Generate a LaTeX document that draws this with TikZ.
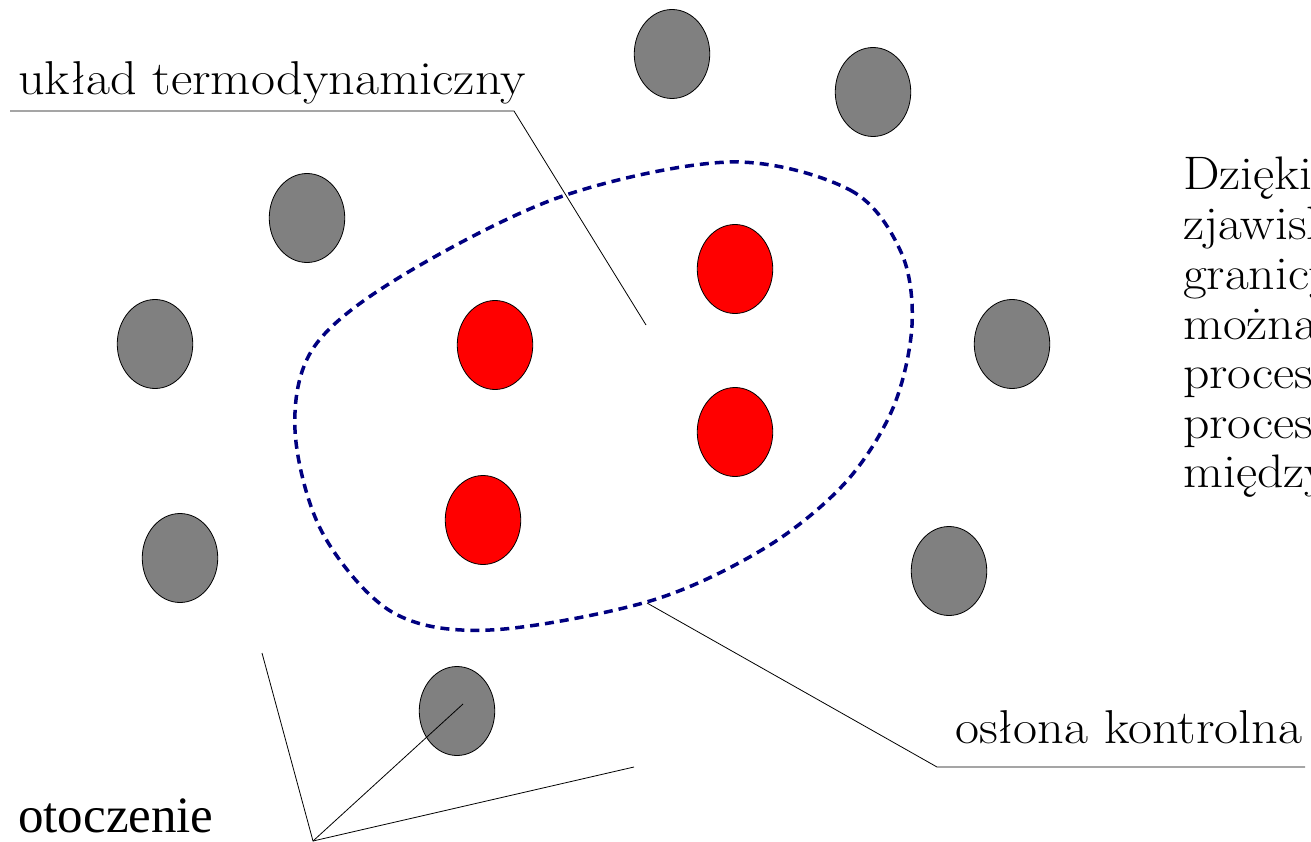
\documentclass[tikz,border=0pt]{standalone}
\usepackage{fontspec}
\setmainfont{Latin Modern Roman}[FakeStretch=1.1]
\newfontfamily\timesf{Liberation Serif}
\usetikzlibrary{shapes.geometric}
\begin{document}
\begin{tikzpicture}[x=1pt,y=-1pt,
  ball/.style={ellipse,draw=black,line width=0.8pt,minimum width=75.5pt,minimum height=89pt,inner sep=0pt},
  grayball/.style={ball,fill={rgb,255:red,128;green,128;blue,128}},
  redball/.style={ball,fill={rgb,255:red,255;green,0;blue,0}},
  lbl/.style={anchor=base west,inner sep=0pt,font=\fontsize{47.5}{56}\selectfont},
  body/.style={anchor=base west,inner sep=0pt,font=\fontsize{47}{50}\selectfont},
  leader/.style={draw=black,line width=0.8pt},
  boundary/.style={draw={rgb,255:red,0;green,0;blue,128},line width=3.5pt,dash pattern=on 9pt off 6pt}]
\useasboundingbox (0,0) rectangle (1311,842);
\fill[white] (0,0) rectangle (1311,842);

% gray balls (otoczenie)
\node[grayball] (g1) at (672,54) {};
\node[grayball] (g2) at (873,92) {};
\node[grayball] (g3) at (307,218) {};
\node[grayball] (g4) at (155,344) {};
\node[grayball] (g5) at (1012,344) {};
\node[grayball] (g6) at (180,558) {};
\node[grayball] (g7) at (949,571) {};
\node[grayball] (g8) at (457,711) {};

% red balls (uklad)
\node[redball] (r1) at (735,269) {};
\node[redball] (r2) at (495,345) {};
\node[redball] (r3) at (735,432) {};
\node[redball] (r4) at (483,520) {};

% control surface
\draw[boundary] plot[smooth cycle,tension=0.55] coordinates {
 (730,162) (850,190) (901,252) (912,325) (893,408) (845,483) (765,548)
 (650,601) (490,630) (392,612) (322,532) (295,430) (314,347) (400,277)
 (560,197)};

% labels
\node[lbl] (tuk) at (18,95) {układ termodynamiczny};
\node[lbl] (tos) at (955,743) {osłona kontrolna};
\node[anchor=base west,inner sep=0pt,font=\timesf\fontsize{51}{56}\selectfont] (tot) at (18,832) {otoczenie};

\coordinate (u0) at (10,111);
\coordinate (u1) at (514,111);
\coordinate (u2) at (646,325);
\draw[leader] (u0) -- (u1) -- (u2);

\coordinate (o0) at (647,603);
\coordinate (o1) at (937,767);
\coordinate (o2) at (1305,767);
\draw[leader] (o0) -- (o1) -- (o2);

\coordinate (v) at (313,841);
\coordinate (va) at (262,653);
\coordinate (vb) at (634,767);
\coordinate (vc) at (463,704);
\draw[leader] (va) -- (v) -- (vb);
\draw[leader] (v) -- (vc);

% clipped body text at right
\begin{scope}
\clip (0,0) rectangle (1311,842);
\node[body] (b1) at (1183,190) {Dzięki};
\node[body] (b2) at (1183,240) {zjawisko};
\node[body] (b3) at (1183,289) {granicy};
\node[body] (b4) at (1183,339) {można};
\node[body] (b5) at (1183,388) {procesy};
\node[body] (b6) at (1183,438) {procesów};
\node[body] (b7) at (1183,487) {między};
\end{scope}
\end{tikzpicture}
\end{document}
